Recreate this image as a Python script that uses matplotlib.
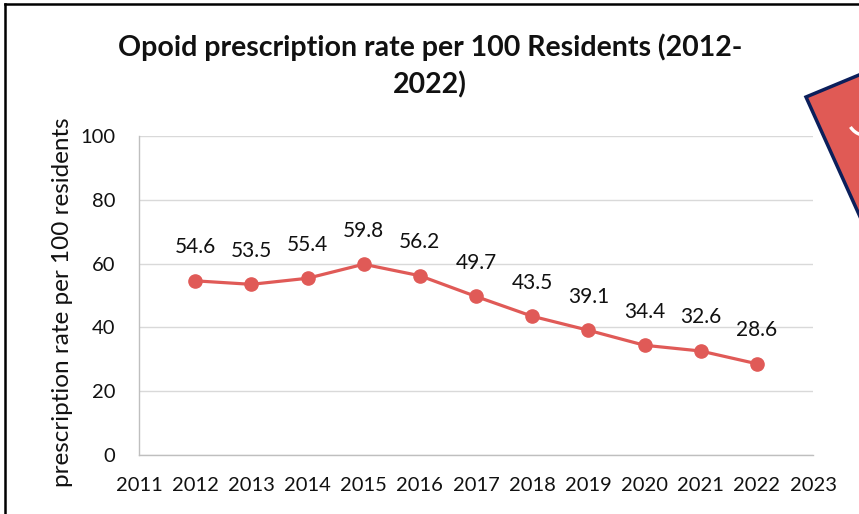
import matplotlib
matplotlib.use("Agg")
import matplotlib.pyplot as plt
from matplotlib.patches import Polygon, Arc
from matplotlib.lines import Line2D

years = [2012, 2013, 2014, 2015, 2016, 2017, 2018, 2019, 2020, 2021, 2022]
rates = [54.6, 53.5, 55.4, 59.8, 56.2, 49.7, 43.5, 39.1, 34.4, 32.6, 28.6]
x_ticks = list(range(2011, 2024))
y_ticks = [0, 20, 40, 60, 80, 100]
title = "Opoid prescription rate per 100 Residents (2012-\n2022)"
ylabel = "prescription rate per 100 residents"

plt.rcParams['font.family'] = ['Lato', 'DejaVu Sans']

W, H = 859, 514
fig = plt.figure(figsize=(W / 100, H / 100), dpi=100)
fig.patch.set_facecolor('white')

ax = fig.add_axes([139 / W, 1 - 455 / H, (813 - 139) / W, (455 - 136) / H])
line_color = '#E05A57'
ax.plot(years, rates, color=line_color, lw=2.3, marker='o', ms=9.5, zorder=3)
for x, y in zip(years, rates):
    ax.annotate(f"{y:.1f}", (x, y), xytext=(0, 17), textcoords='offset points',
                ha='center', va='bottom', fontsize=15, color='#111111')

ax.set_xlim(2011, 2023)
ax.set_ylim(0, 100)
ax.set_xticks(x_ticks)
ax.set_xticklabels([str(t) for t in x_ticks])
ax.set_yticks(y_ticks)
ax.set_yticklabels([str(t) for t in y_ticks])
ax.tick_params(axis='both', length=0, labelsize=14.5, colors='#111111')
ax.tick_params(axis='x', pad=16)
ax.tick_params(axis='y', pad=17)
ax.grid(axis='y', color='#D9D9D9', lw=1)
ax.set_axisbelow(True)
for s in ['top', 'right']:
    ax.spines[s].set_visible(False)
for s in ['left', 'bottom']:
    ax.spines[s].set_color('#BFBFBF')
    ax.spines[s].set_linewidth(1)

ax.set_ylabel(ylabel, fontsize=17.5, color='#111111')
ax.yaxis.set_label_coords((73 - 139) / (813 - 139), (455 - 302) / (455 - 136))

fig.text(430 / W, 1 - 66 / H, title, ha='center', va='center', fontsize=20.5,
         fontweight='bold', linespacing=1.45, color='#111111')

# chart frame (top and left edges visible)
fig.add_artist(Line2D([5 / W, 5 / W], [0, 1 - 4 / H], transform=fig.transFigure,
                      color='black', lw=1.8))
fig.add_artist(Line2D([5 / W, 1], [1 - 4 / H, 1 - 4 / H], transform=fig.transFigure,
                      color='black', lw=1.8))

# tilted red card partially visible at right
pts = [(806, 97), (806 + 53 * 3, 97 - 22 * 3), (806 + 53 * 3 + 51 * 2, 97 - 22 * 3 + 113 * 2),
       (806 + 51 * 2, 97 + 113 * 2)]
poly = Polygon([(px / W, 1 - py / H) for px, py in pts], closed=True,
               transform=fig.transFigure, facecolor='#E05A55', edgecolor='#0B1F5B',
               lw=2.5, zorder=5)
fig.add_artist(poly)
# visible sliver of the white glyph on the card
fig.add_artist(Arc((861 / W, 1 - 125 / H), 22 / W, 22 / H, angle=22, theta1=175, theta2=290,
                   transform=fig.transFigure, color='white', lw=2.4, zorder=6))

fig.savefig('out.png', dpi=100)
